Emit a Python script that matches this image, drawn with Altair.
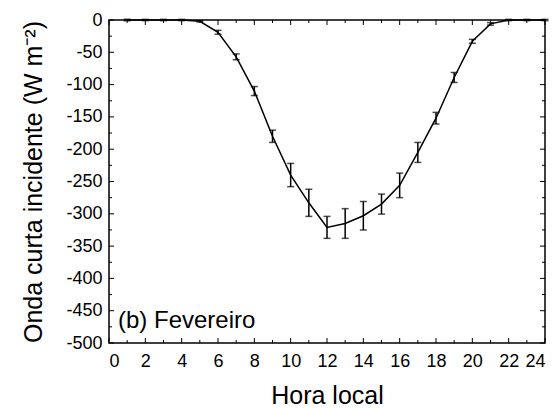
import altair as alt
import pandas as pd

hours = list(range(1, 25))
values = [0, 0, 0, 0, -2, -19, -57, -110, -180, -240, -283, -321,
          -315, -303, -285, -256, -205, -152, -89, -33, -6, 0, 0, 0]
errors = [1, 1, 1, 1, 1, 3, 4.5, 7, 9.5, 18, 21, 17,
          23, 22, 15.5, 19, 15.5, 9, 7.7, 3, 2, 1, 1, 1]

x_major = list(range(0, 25, 2))
x_minor = list(range(1, 24, 2))
y_major = list(range(-500, 1, 50))
y_minor = list(range(-475, 0, 50))

W, H = 436, 323
FONT = "Liberation Sans"

df = pd.DataFrame({"h": hours, "v": values, "e": errors})
df["lo"] = df["v"] - df["e"]
df["hi"] = df["v"] + df["e"]

xs = alt.Scale(domain=[0, 24], nice=False, zero=False)
ys = alt.Scale(domain=[-500, 0], nice=False, zero=False)

x_axis = alt.Axis(values=x_major, tickSize=0, domain=False, grid=False,
                  labelFontSize=18, labelPadding=9, labelOverlap=False,
                  labelExpr="toString(datum.value)", title="Hora local",
                  titleFontSize=25, titleFontWeight="normal", titlePadding=13,
                  labelFont=FONT, titleFont=FONT, labelColor="black", titleColor="black")
y_axis = alt.Axis(values=y_major, tickSize=0, domain=False, grid=False,
                  labelFontSize=18, labelPadding=7, labelOverlap=False,
                  labelExpr="toString(datum.value)",
                  title="Onda curta incidente (W m⁻²)",
                  titleFontSize=25, titleFontWeight="normal", titlePadding=19,
                  labelFont=FONT, titleFont=FONT, labelColor="black", titleColor="black")


def X(f):
    return alt.X(f, scale=xs, axis=x_axis)


def Y(f):
    return alt.Y(f, scale=ys, axis=y_axis)


base = alt.Chart(df)

line = base.mark_line(color="black", strokeWidth=1.5).encode(x=X("h:Q"), y=Y("v:Q"))
bars = base.mark_rule(color="black", strokeWidth=1.5).encode(
    x=X("h:Q"), y=Y("lo:Q"), y2="hi:Q")
cap_lo = base.mark_tick(color="black", orient="horizontal", size=7, thickness=1.5).encode(
    x=X("h:Q"), y=Y("lo:Q"))
cap_hi = base.mark_tick(color="black", orient="horizontal", size=7, thickness=1.5).encode(
    x=X("h:Q"), y=Y("hi:Q"))


def xticks(vals, length):
    d = alt.Chart(pd.DataFrame({"t": vals}))
    bot = d.mark_rule(color="black", strokeWidth=1).encode(
        x=X("t:Q"), y=alt.value(H), y2=alt.value(H - length))
    top = d.mark_rule(color="black", strokeWidth=1).encode(
        x=X("t:Q"), y=alt.value(0), y2=alt.value(length))
    return bot + top


def yticks(vals, length):
    d = alt.Chart(pd.DataFrame({"t": vals}))
    left = d.mark_rule(color="black", strokeWidth=1).encode(
        y=Y("t:Q"), x=alt.value(0), x2=alt.value(length))
    right = d.mark_rule(color="black", strokeWidth=1).encode(
        y=Y("t:Q"), x=alt.value(W), x2=alt.value(W - length))
    return left + right


label = alt.Chart(pd.DataFrame({"t": ["(b) Fevereiro"]})).mark_text(
    align="left", baseline="alphabetic", fontSize=24, font=FONT, color="black"
).encode(x=alt.value(9), y=alt.value(308), text="t:N")

chart = alt.layer(
    line, xticks(x_major, 5), xticks(x_minor, 3), yticks(y_major, 5), yticks(y_minor, 3),
    bars, cap_lo, cap_hi, label
).properties(
    width=W, height=H,
    autosize=alt.AutoSizeParams(type="none"),
    padding={"left": 109, "top": 20, "right": 15, "bottom": 65},
    background="white",
).configure_view(stroke="black", strokeWidth=1.5)

chart.save("out.html", embed_options={"renderer": "svg", "actions": False})
